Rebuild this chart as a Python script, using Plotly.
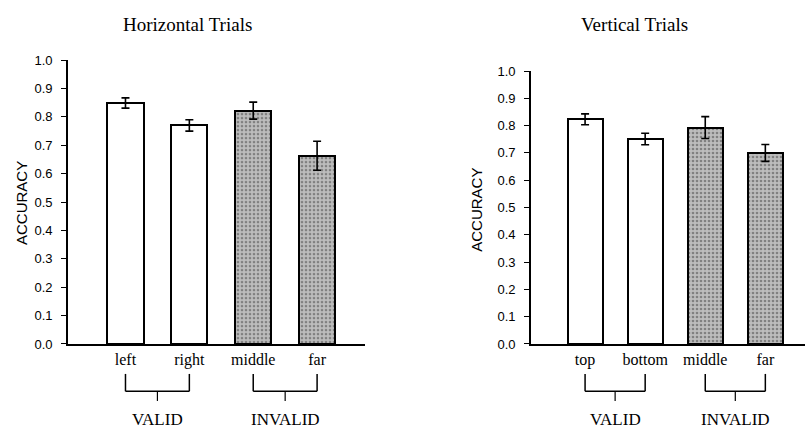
import plotly.graph_objects as go

# ---- data ----
h_cats = ["left", "right", "middle", "far"]
h_acc = [0.849, 0.770, 0.822, 0.663]
h_err = [0.018, 0.020, 0.030, 0.051]

v_cats = ["top", "bottom", "middle", "far"]
v_acc = [0.823, 0.751, 0.793, 0.700]
v_err = [0.020, 0.021, 0.040, 0.031]

y_ticks = [0.0, 0.1, 0.2, 0.3, 0.4, 0.5, 0.6, 0.7, 0.8, 0.9, 1.0]
groups = ["VALID", "INVALID"]

W, H = 805, 436
serif = "Liberation Serif, Times New Roman, serif"
sans = "Liberation Sans, Arial, sans-serif"

fills = ["white", "white", "#bdbdbd", "#bdbdbd"]
shapes_pat = ["", "", ".", "."]


def bar_trace(cats, acc, err, xa, ya, width):
    return go.Bar(
        x=cats, y=acc, xaxis=xa, yaxis=ya, width=width,
        marker=dict(
            color=fills,
            line=dict(color="black", width=2),
            pattern=dict(shape=shapes_pat, fgcolor="#111111", bgcolor=fills,
                         size=4, solidity=0.35, fillmode="overlay"),
        ),
        error_y=dict(type="data", array=err, visible=True, color="black",
                     thickness=1.6, width=4),
        showlegend=False,
    )


fig = go.Figure()
fig.add_trace(bar_trace(h_cats, h_acc, h_err, "x", "y", 0.565))
fig.add_trace(bar_trace(v_cats, v_acc, v_err, "x2", "y2", 0.58))

ax_common = dict(showgrid=False, zeroline=False, showline=True,
                 linecolor="black", linewidth=1.6)
xcommon = dict(ax_common, ticks="", tickfont=dict(family=serif, size=16, color="black"),
               type="category", ticklabelstandoff=0)
ycommon = dict(ax_common, range=[0, 1.0], tickvals=y_ticks,
               ticktext=[f"{v:.1f}" for v in y_ticks], ticks="outside", ticklen=5,
               tickwidth=1.2, tickcolor="black", ticklabelstandoff=6,
               tickfont=dict(family=sans, size=13, color="black"))

fig.update_layout(
    width=W, height=H,
    margin=dict(l=0, r=0, t=0, b=0),
    paper_bgcolor="white", plot_bgcolor="white",
    xaxis=dict(xcommon, domain=[68 / W, 365 / W], range=[-0.9, 3.75], anchor="y"),
    yaxis=dict(ycommon, domain=[1 - 349 / H, 1 - 55 / H], anchor="x"),
    xaxis2=dict(xcommon, domain=[531 / W, 1.0], range=[-0.9, 3.66], anchor="y2"),
    yaxis2=dict(ycommon, domain=[1 - 349 / H, 1 - 66.3 / H], anchor="x2"),
    bargap=0,
)

annotations = [
    dict(text="Horizontal Trials", x=187 / W, y=1 - 18 / H, xref="paper", yref="paper",
         xanchor="center", yanchor="middle",
         showarrow=False, font=dict(family=serif, size=19, color="black")),
    dict(text="Vertical Trials", x=634 / W, y=1 - 18 / H, xref="paper", yref="paper",
         xanchor="center", yanchor="middle",
         showarrow=False, font=dict(family=serif, size=19, color="black")),
    dict(text="ACCURACY", x=21 / W, y=1 - 203 / H, xref="paper", yref="paper",
         xanchor="center", yanchor="middle",
         textangle=-90, showarrow=False, font=dict(family=sans, size=15, color="black")),
    dict(text="ACCURACY", x=477 / W, y=1 - 210 / H, xref="paper", yref="paper",
         xanchor="center", yanchor="middle",
         textangle=-90, showarrow=False, font=dict(family=sans, size=15, color="black")),
]

shapes = []
y_top, y_mid, y_bot, y_lab = 1 - 380 / H, 1 - 398 / H, 1 - 408 / H, 1 - 427 / H
for xr in ["x", "x2"]:
    for gi, (a, b) in enumerate([(0, 1), (2, 3)]):
        ln = dict(color="black", width=1.5)
        shapes.append(dict(type="line", xref=xr, yref="paper", x0=a, x1=a, y0=y_top, y1=y_mid, line=ln))
        shapes.append(dict(type="line", xref=xr, yref="paper", x0=b, x1=b, y0=y_top, y1=y_mid, line=ln))
        shapes.append(dict(type="line", xref=xr, yref="paper", x0=a, x1=b, y0=y_mid, y1=y_mid, line=ln))
        shapes.append(dict(type="line", xref=xr, yref="paper", x0=(a + b) / 2, x1=(a + b) / 2,
                           y0=y_mid, y1=y_bot, line=dict(color="black", width=1.2)))
        annotations.append(dict(text=groups[gi], x=(a + b) / 2, y=y_lab, xref=xr, yref="paper",
                                xanchor="center", yanchor="middle",
                                showarrow=False, font=dict(family=serif, size=17, color="black")))

fig.update_layout(annotations=annotations, shapes=shapes)
fig.write_html(
    "out.html",
    config=dict(displayModeBar=False),
    post_script="document.body.style.margin='0';document.body.style.overflow='hidden';",
)
